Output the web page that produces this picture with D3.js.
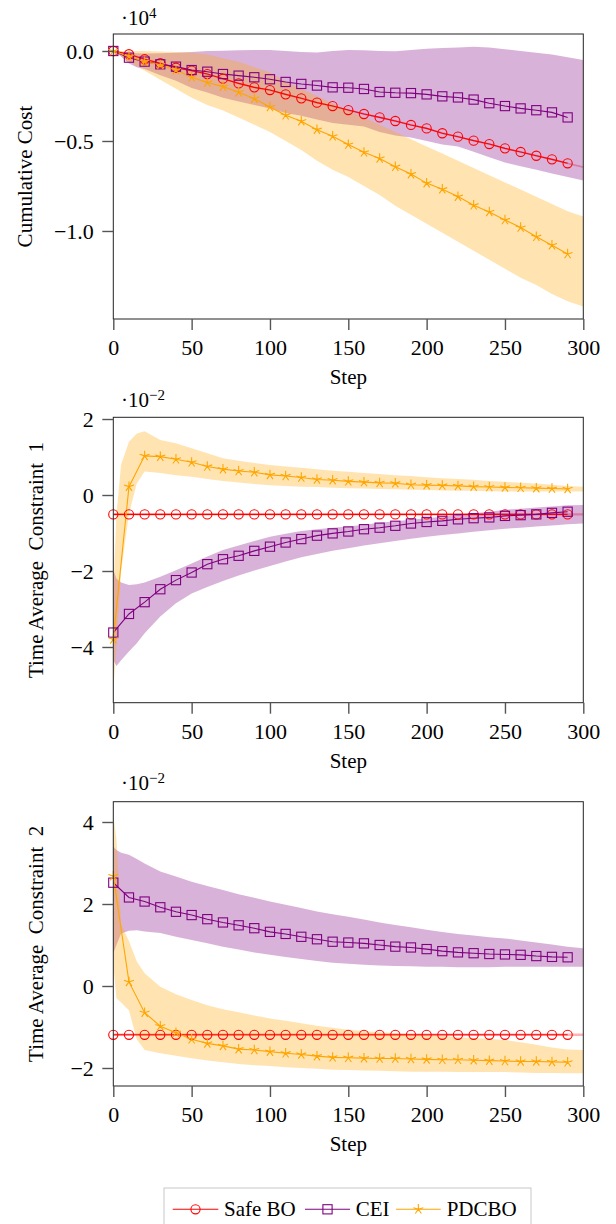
<!DOCTYPE html>
<html><head><meta charset="utf-8">
<script src="https://cdn.jsdelivr.net/npm/d3@7"></script>
<style>
body{margin:0;background:#fff}
svg{display:block}
text{font-family:"Liberation Serif","Times New Roman",serif;fill:#000}
</style>
</head><body>
<svg id="c" width="616" height="1224"></svg>
<script>
// ---------------- data ----------------
const markSteps = [0,10,20,30,40,50,60,70,80,90,100,110,120,130,140,150,160,170,180,190,200,210,220,230,240,250,260,270,280,290];
const bandSteps = [0,2,5,10,15,20,30,40,50,60,70,80,90,100,110,120,130,140,150,160,170,180,190,200,210,220,230,240,250,260,270,280,290,300];
const xTicks = [0,50,100,150,200,250,300];
const seriesNames = ["Safe BO","CEI","PDCBO"];

// Panel 1: cumulative cost (x1e4)
const costSafeBO = [0,-0.018,-0.046,-0.068,-0.093,-0.109,-0.128,-0.154,-0.180,-0.202,-0.217,-0.241,-0.263,-0.287,-0.306,-0.328,-0.350,-0.369,-0.389,-0.411,-0.430,-0.457,-0.476,-0.498,-0.517,-0.541,-0.561,-0.582,-0.602,-0.624];
const costCEI = [0,-0.037,-0.059,-0.074,-0.087,-0.106,-0.115,-0.128,-0.137,-0.146,-0.157,-0.172,-0.183,-0.192,-0.202,-0.204,-0.211,-0.228,-0.232,-0.234,-0.241,-0.252,-0.258,-0.270,-0.290,-0.306,-0.319,-0.329,-0.341,-0.369];
const costPDCBO = [0,-0.031,-0.059,-0.078,-0.106,-0.146,-0.175,-0.198,-0.229,-0.265,-0.311,-0.357,-0.390,-0.437,-0.474,-0.520,-0.563,-0.597,-0.643,-0.684,-0.734,-0.768,-0.809,-0.857,-0.894,-0.939,-0.981,-1.032,-1.079,-1.128];
const costSafeBOHi = [0.005,0.001,-0.004,-0.013,-0.027,-0.041,-0.063,-0.088,-0.104,-0.123,-0.149,-0.175,-0.197,-0.212,-0.236,-0.258,-0.282,-0.301,-0.323,-0.345,-0.364,-0.384,-0.406,-0.425,-0.452,-0.471,-0.493,-0.512,-0.536,-0.556,-0.577,-0.597,-0.619,-0.640];
const costSafeBOLo = [-0.005,-0.009,-0.014,-0.023,-0.037,-0.051,-0.073,-0.098,-0.114,-0.133,-0.159,-0.185,-0.207,-0.222,-0.246,-0.268,-0.292,-0.311,-0.333,-0.355,-0.374,-0.394,-0.416,-0.435,-0.462,-0.481,-0.503,-0.522,-0.546,-0.566,-0.587,-0.607,-0.629,-0.650];
const costCEIHi = [0,-0.003,-0.006,-0.010,-0.012,-0.014,-0.013,-0.010,-0.005,0.000,0.002,0.004,0.006,0.006,0.000,-0.005,-0.008,0.000,0.006,0.004,0.000,-0.002,0.005,0.012,0.016,0.020,0.024,0.020,0.010,0.000,-0.010,-0.020,-0.035,-0.050];
const costCEILo = [0,-0.012,-0.030,-0.070,-0.090,-0.100,-0.135,-0.165,-0.205,-0.230,-0.260,-0.280,-0.300,-0.320,-0.345,-0.360,-0.380,-0.400,-0.410,-0.420,-0.450,-0.470,-0.480,-0.500,-0.520,-0.530,-0.560,-0.590,-0.620,-0.640,-0.660,-0.680,-0.700,-0.720];
const costPDCBOHi = [0,0,0,0,0,0,-0.003,-0.006,-0.010,-0.020,-0.040,-0.060,-0.090,-0.120,-0.170,-0.210,-0.250,-0.290,-0.330,-0.370,-0.410,-0.450,-0.490,-0.530,-0.570,-0.610,-0.650,-0.690,-0.730,-0.770,-0.810,-0.850,-0.890,-0.920];
const costPDCBOLo = [0,-0.010,-0.030,-0.060,-0.085,-0.110,-0.160,-0.210,-0.260,-0.300,-0.330,-0.370,-0.410,-0.450,-0.500,-0.550,-0.610,-0.660,-0.700,-0.750,-0.800,-0.860,-0.910,-0.960,-1.010,-1.060,-1.110,-1.160,-1.210,-1.260,-1.300,-1.350,-1.390,-1.420];

// Panel 2: time average constraint 1 (x1e-2)
const c1SafeBO = [-0.51,-0.51,-0.51,-0.51,-0.51,-0.51,-0.51,-0.51,-0.51,-0.51,-0.51,-0.51,-0.51,-0.51,-0.51,-0.51,-0.51,-0.51,-0.51,-0.51,-0.51,-0.51,-0.51,-0.51,-0.51,-0.51,-0.51,-0.51,-0.51,-0.51];
const c1CEI = [-3.62,-3.13,-2.82,-2.48,-2.24,-2.04,-1.82,-1.69,-1.60,-1.47,-1.36,-1.25,-1.16,-1.07,-1.01,-0.96,-0.90,-0.86,-0.81,-0.75,-0.71,-0.68,-0.64,-0.61,-0.59,-0.55,-0.53,-0.51,-0.47,-0.44];
const c1PDCBO = [-3.80,0.22,1.03,1.01,0.94,0.86,0.75,0.68,0.63,0.60,0.53,0.50,0.46,0.41,0.39,0.36,0.34,0.32,0.31,0.27,0.26,0.25,0.24,0.22,0.21,0.20,0.19,0.18,0.17,0.16];
const c1SafeBOHi = [-0.48,-0.48,-0.48,-0.48,-0.48,-0.48,-0.48,-0.48,-0.48,-0.48,-0.48,-0.48,-0.48,-0.48,-0.48,-0.48,-0.48,-0.48,-0.48,-0.48,-0.48,-0.48,-0.48,-0.48,-0.48,-0.48,-0.48,-0.48,-0.48,-0.48,-0.48,-0.48,-0.48,-0.48];
const c1SafeBOLo = [-0.54,-0.54,-0.54,-0.54,-0.54,-0.54,-0.54,-0.54,-0.54,-0.54,-0.54,-0.54,-0.54,-0.54,-0.54,-0.54,-0.54,-0.54,-0.54,-0.54,-0.54,-0.54,-0.54,-0.54,-0.54,-0.54,-0.54,-0.54,-0.54,-0.54,-0.54,-0.54,-0.54,-0.54];
const c1CEIHi = [-1.97,-2.20,-2.30,-2.37,-2.35,-2.30,-2.15,-1.98,-1.80,-1.62,-1.45,-1.33,-1.21,-1.10,-1.02,-0.95,-0.90,-0.86,-0.83,-0.78,-0.73,-0.69,-0.65,-0.61,-0.57,-0.52,-0.48,-0.44,-0.39,-0.36,-0.33,-0.30,-0.27,-0.26];
const c1CEILo = [-4.34,-4.50,-4.35,-4.12,-3.90,-3.64,-3.20,-2.85,-2.59,-2.42,-2.26,-2.12,-1.99,-1.87,-1.75,-1.64,-1.55,-1.47,-1.40,-1.33,-1.27,-1.21,-1.15,-1.10,-1.05,-1.01,-0.97,-0.93,-0.89,-0.86,-0.83,-0.80,-0.77,-0.75];
const c1PDCBOHi = [-2.60,-0.50,0.80,1.40,1.62,1.68,1.45,1.36,1.23,1.10,0.97,0.90,0.84,0.79,0.75,0.72,0.68,0.64,0.61,0.58,0.55,0.52,0.50,0.47,0.44,0.42,0.40,0.37,0.35,0.32,0.30,0.27,0.24,0.22];
const c1PDCBOLo = [-5.13,-4.00,-2.00,-0.50,0.30,0.62,0.58,0.52,0.48,0.42,0.37,0.33,0.29,0.26,0.24,0.22,0.21,0.19,0.18,0.17,0.16,0.15,0.14,0.13,0.12,0.11,0.11,0.10,0.09,0.09,0.09,0.09,0.09,0.09];

// Panel 3: time average constraint 2 (x1e-2)
const c2SafeBO = [-1.19,-1.19,-1.19,-1.19,-1.19,-1.19,-1.19,-1.19,-1.19,-1.19,-1.19,-1.19,-1.19,-1.19,-1.19,-1.19,-1.19,-1.19,-1.19,-1.19,-1.19,-1.19,-1.19,-1.19,-1.19,-1.19,-1.19,-1.19,-1.19,-1.19];
const c2CEI = [2.52,2.16,2.06,1.92,1.81,1.73,1.63,1.55,1.48,1.41,1.32,1.27,1.20,1.14,1.08,1.06,1.04,1.00,0.96,0.94,0.90,0.85,0.82,0.80,0.78,0.77,0.76,0.73,0.71,0.70];
const c2PDCBO = [2.68,0.10,-0.65,-0.98,-1.14,-1.30,-1.40,-1.46,-1.54,-1.56,-1.60,-1.64,-1.67,-1.71,-1.74,-1.75,-1.76,-1.77,-1.77,-1.78,-1.79,-1.80,-1.80,-1.81,-1.82,-1.83,-1.84,-1.84,-1.85,-1.86];
const c2SafeBOHi = [-1.16,-1.16,-1.16,-1.16,-1.16,-1.16,-1.16,-1.16,-1.16,-1.16,-1.16,-1.16,-1.16,-1.16,-1.16,-1.16,-1.16,-1.16,-1.16,-1.16,-1.16,-1.16,-1.16,-1.16,-1.16,-1.16,-1.16,-1.16,-1.16,-1.16,-1.16,-1.16,-1.16,-1.16];
const c2SafeBOLo = [-1.22,-1.22,-1.22,-1.22,-1.22,-1.22,-1.22,-1.22,-1.22,-1.22,-1.22,-1.22,-1.22,-1.22,-1.22,-1.22,-1.22,-1.22,-1.22,-1.22,-1.22,-1.22,-1.22,-1.22,-1.22,-1.22,-1.22,-1.22,-1.22,-1.22,-1.22,-1.22,-1.22,-1.22];
const c2CEIHi = [3.40,3.32,3.25,3.20,3.10,2.99,2.79,2.67,2.54,2.44,2.34,2.24,2.15,2.06,1.98,1.90,1.82,1.75,1.69,1.62,1.55,1.49,1.43,1.37,1.32,1.27,1.23,1.19,1.16,1.11,1.06,1.01,0.96,0.92];
const c2CEILo = [0.80,1.00,1.28,1.35,1.36,1.33,1.29,1.20,1.12,1.04,0.96,0.89,0.82,0.76,0.71,0.66,0.61,0.57,0.54,0.52,0.50,0.49,0.48,0.47,0.47,0.46,0.46,0.46,0.47,0.47,0.47,0.47,0.47,0.47];
const c2PDCBOHi = [4.17,3.60,1.50,1.10,0.60,0.31,-0.02,-0.20,-0.34,-0.47,-0.57,-0.64,-0.72,-0.79,-0.85,-0.91,-0.97,-1.02,-1.07,-1.10,-1.13,-1.15,-1.18,-1.20,-1.22,-1.25,-1.27,-1.29,-1.32,-1.37,-1.43,-1.50,-1.55,-1.56];
const c2PDCBOLo = [0.50,-0.30,-0.40,-0.60,-1.30,-1.56,-1.64,-1.70,-1.76,-1.82,-1.86,-1.90,-1.93,-1.95,-1.98,-2.00,-2.02,-2.04,-2.05,-2.06,-2.07,-2.08,-2.09,-2.09,-2.09,-2.10,-2.10,-2.10,-2.10,-2.11,-2.12,-2.12,-2.13,-2.13];

const yTicks1 = [0,-0.5,-1.0];
const yTicks2 = [2,0,-2,-4];
const yTicks3 = [4,2,0,-2];

// ---------------- drawing ----------------
const svg = d3.select("#c");
const colors = {"Safe BO":"#ff0000","CEI":"#800080","PDCBO":"#ffa500"};
const FS = 21;
const TFS = 22;

const panels = [
  {ylabel:"Cumulative Cost", exp:"4", top:34, bottom:319, vTop:0.0944, vBot:-1.489, ticks:yTicks1, fmt:d3.format(".1f"),
   labelX:32, expY:25,
   means:[costSafeBO,costCEI,costPDCBO], his:[costSafeBOHi,costCEIHi,costPDCBOHi], los:[costSafeBOLo,costCEILo,costPDCBOLo]},
  {ylabel:"Time Average\u2002Constraint\u20021", exp:"\u22122", top:417.3, bottom:702.7, vTop:2.045, vBot:-5.466, ticks:yTicks2, fmt:d3.format("d"),
   labelX:43, expY:406.5,
   means:[c1SafeBO,c1CEI,c1PDCBO], his:[c1SafeBOHi,c1CEIHi,c1PDCBOHi], los:[c1SafeBOLo,c1CEILo,c1PDCBOLo]},
  {ylabel:"Time Average\u2002Constraint\u20022", exp:"\u22122", top:801.7, bottom:1086, vTop:4.495, vBot:-2.439, ticks:yTicks3, fmt:d3.format("d"),
   labelX:43, expY:790,
   means:[c2SafeBO,c2CEI,c2PDCBO], his:[c2SafeBOHi,c2CEIHi,c2PDCBOHi], los:[c2SafeBOLo,c2CEILo,c2PDCBOLo]}
];

const X0 = 113.3, X1 = 583.3;

function starPath(r){
  let p = "";
  for (let k=0;k<5;k++){
    const a = (-90 + 72*k)*Math.PI/180;
    p += `M0,0L${(r*Math.cos(a)).toFixed(2)},${(r*Math.sin(a)).toFixed(2)}`;
  }
  return p;
}
function drawMarker(g, name, cx, cy){
  const c = colors[name];
  if (name === "Safe BO"){
    g.append("circle").attr("cx",cx).attr("cy",cy).attr("r",4.6)
      .attr("fill","none").attr("stroke",c).attr("stroke-width",1.1);
  } else if (name === "CEI"){
    g.append("rect").attr("x",cx-4.6).attr("y",cy-4.6).attr("width",9.2).attr("height",9.2)
      .attr("fill","none").attr("stroke",c).attr("stroke-width",1.1);
  } else {
    g.append("path").attr("transform",`translate(${cx},${cy})`).attr("d",starPath(5.2))
      .attr("fill","none").attr("stroke",c).attr("stroke-width",1.1);
  }
}

panels.forEach((P, pi) => {
  const x = d3.scaleLinear().domain([0,300]).range([X0,X1]);
  const y = d3.scaleLinear().domain([P.vBot,P.vTop]).range([P.bottom,P.top]);
  const g = svg.append("g");
  const clipId = "clip"+pi;
  svg.append("clipPath").attr("id",clipId).append("rect")
    .attr("x",X0).attr("y",P.top).attr("width",X1-X0).attr("height",P.bottom-P.top);

  const plot = g.append("g").attr("clip-path",`url(#${clipId})`);
  // bands
  seriesNames.forEach((name, si) => {
    const hi = P.his[si], lo = P.los[si];
    const area = d3.area().x((d,i)=>x(bandSteps[i])).y0((d,i)=>y(lo[i])).y1((d,i)=>y(hi[i]));
    plot.append("path").datum(bandSteps).attr("d",area)
      .attr("fill",colors[name]).attr("fill-opacity",0.3).attr("stroke","none");
  });
  // lines + markers
  seriesNames.forEach((name, si) => {
    const m = P.means[si];
    const line = d3.line().x((d,i)=>x(markSteps[i])).y((d,i)=>y(m[i]));
    plot.append("path").datum(markSteps).attr("d",line)
      .attr("fill","none").attr("stroke",colors[name]).attr("stroke-width",1.1);
  });
  seriesNames.forEach((name, si) => {
    const m = P.means[si];
    markSteps.forEach((s,i)=> drawMarker(g, name, x(s), y(m[i])));
  });

  // frame
  g.append("rect").attr("x",X0).attr("y",P.top).attr("width",X1-X0).attr("height",P.bottom-P.top)
    .attr("fill","none").attr("stroke","#222").attr("stroke-width",1);

  // axes
  const ax = g.append("g").attr("transform",`translate(0,${P.bottom})`)
    .call(d3.axisBottom(x).tickValues(xTicks).tickSize(11).tickSizeOuter(0).tickPadding(9.5).tickFormat(d3.format("d")));
  const ay = g.append("g").attr("transform",`translate(${X0},0)`)
    .call(d3.axisLeft(y).tickValues(P.ticks).tickSize(11).tickSizeOuter(0).tickPadding(8.5).tickFormat(P.fmt));
  [ax,ay].forEach(a=>{
    a.select(".domain").remove();
    a.selectAll(".tick line").attr("stroke","#555").attr("stroke-width",1.4);
    a.selectAll(".tick text").attr("font-size",TFS).attr("font-family",'"Liberation Serif",serif').attr("fill","#000");
  });

  // labels
  g.append("text").attr("x",(X0+X1)/2).attr("y",P.bottom+65).attr("text-anchor","middle")
    .attr("font-size",FS).text("Step");
  g.append("text").attr("transform",`translate(${P.labelX},${(P.top+P.bottom)/2}) rotate(-90)`)
    .attr("text-anchor","middle").attr("font-size",FS).text(P.ylabel);
  const et = g.append("text").attr("x",121).attr("y",P.expY).attr("font-size",FS);
  et.append("tspan").text("\u00b710");
  et.append("tspan").attr("dy",-7).attr("font-size",15).text(P.exp);
});

// legend
const lg = svg.append("g");
lg.append("rect").attr("x",164).attr("y",1188).attr("width",367).attr("height",44)
  .attr("fill","#fff").attr("stroke","#c8c8c8").attr("stroke-width",1);
const legendItems = [
  {name:"Safe BO", x0:172.7, x1:218.3, tx:224},
  {name:"CEI", x0:305, x1:350, tx:355.7},
  {name:"PDCBO", x0:396, x1:440.7, tx:446.7}
];
legendItems.forEach(it=>{
  lg.append("line").attr("x1",it.x0).attr("x2",it.x1).attr("y1",1209.3).attr("y2",1209.3)
    .attr("stroke",colors[it.name]).attr("stroke-width",1.1);
  drawMarker(lg, it.name, (it.x0+it.x1)/2, 1209.3);
  lg.append("text").attr("x",it.tx).attr("y",1215.5).attr("font-size",FS).text(it.name);
});
</script>
</body></html>
